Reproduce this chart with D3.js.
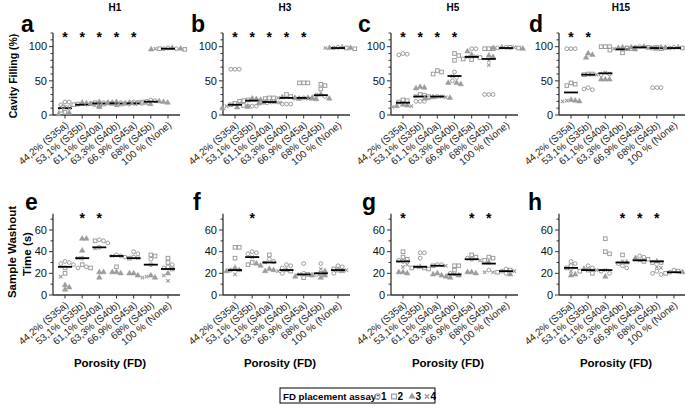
<!DOCTYPE html>
<html><head><meta charset="utf-8">
<script src="https://cdn.jsdelivr.net/npm/d3@7"></script>
<style>body{margin:0;background:#fff} svg{display:block;font-family:"Liberation Sans",Arial,sans-serif}</style>
</head><body><svg id="c" width="685" height="409"></svg>
<script>
const categories = ["44,2% (S35a)", "53,1% (S35b)", "61,1% (S40a)", "63,3% (S40b)", "66,9% (S45a)", "68% (S45b)", "100 % (None)"];
const panelTitles = ["H1", "H3", "H5", "H15"];
const panelLetters = ["a", "b", "c", "d", "e", "f", "g", "h"];
const fillTicks = [0, 50, 100];
const washTicks = [0, 20, 40, 60];
const legendLabels = ["1", "2", "3", "4"];

// each category: [circles(1), squares(2), triangles(3), crosses(4)]
const fillH1 = [
  [[19,19,15],[7,4],[1,3],[12,10]],
  [[12,12,12],[16,15],[16,17,18],[14]],
  [[17,18,16],[18,17],[12,19,18],[15]],
  [[17,18,16],[15,16],[18,19,17],[16]],
  [[19,18,17],[15,16],[18,17,16],[17]],
  [[22,21,20],[18,19],[20,19,18],[18]],
  [[97,98,97],[96,97],[98,97,96],[97]]
];
const fillH3 = [
  [[67,67,67],[15,17,14],[11,12,10],[17,13]],
  [[13,13,13],[20,22,21],[22,24,23],[21]],
  [[19,18],[25,25,24],[17,18,19],[18]],
  [[16,16,16],[30,27],[25,24,26],[25]],
  [[25,24],[47,47,47],[24,25,23],[24]],
  [[29,27],[45,43,38],[24,25,30],[24]],
  [[98,99],[98,97],[98,99,98],[98]]
];
const fillH5 = [
  [[88,89,90],[22,21,19],[14,15,13],[13,12]],
  [[20,20,20],[29,27,30],[40,41,39],[28]],
  [[27,25],[63,60,65],[25,26,24],[26,27]],
  [[63,55,50],[90,87,80],[47,47,45],[57]],
  [[97,97],[81,82,84],[93,88],[85,86]],
  [[30,30,30],[97,97,97],[87,85],[73,80]],
  [[99,98],[99,98],[99,98,97],[99]]
];
const fillH15 = [
  [[97,97,97],[47,43,45],[22,21,20],[20,21]],
  [[38,40,37],[60,60,59],[88,84,90],[59]],
  [[59,60],[100,100,100],[52,52,52],[62]],
  [[97,98],[91,95],[96,99,98],[97]],
  [[99,100],[98,99],[97,100,99],[99]],
  [[40,40,40],[99,98],[99,98],[98]],
  [[98,99],[98,97],[99,98],[98]]
];
const washH1 = [
  [[30,31,29,28],[20,25],[9,5,7],[17]],
  [[26,25,34],[25,28],[52,52,41],[34]],
  [[50,51,48,44],[50],[21,21,16],[43]],
  [[36,37,35],[26],[21,21,20],[36]],
  [[40,38,35],[34],[20,20,18],[34]],
  [[33,28],[36,37],[16,18],[16,17]],
  [[28,26,25],[34,30,24],[20],[13,18]]
];
const washH3 = [
  [[23],[44,44,34],[22,25,23],[19]],
  [[39,40,38],[30,28],[27,29],[35]],
  [[31,33],[37],[23,24,22],[30]],
  [[28,27,25,20],[22],[23],[22]],
  [[29,20],[19,16],[17,18],[19]],
  [[29,19],[20],[16,18,22],[24]],
  [[26,27,20],[23,24],[22],[23]]
];
const washH5 = [
  [[31,32],[40,33,35],[21,21,20],[26,28]],
  [[39,39,34],[25,24,25],[26],[26]],
  [[28,28],[27],[20,19,18],[27]],
  [[20],[27,27,23],[16,18,17],[19]],
  [[33,34],[37,35],[21,21,20],[32]],
  [[23],[35,34,32],[30],[21,21]],
  [[22,20,24],[23,21],[19],[22]]
];
const washH15 = [
  [[31,29],[25,27],[18,19],[22]],
  [[27,25],[23,22,20],[24],[23]],
  [[22,20],[52,38,40],[17],[23]],
  [[27,25,29],[37],[30],[31]],
  [[36,35],[33,31],[34],[32]],
  [[20,22,19],[30,30],[31],[26,25]],
  [[21,23],[20,22],[21],[20]]
];
const fillLines = [
  [10,15,17,17,17,19.5,97],
  [15,21,19,25,25,29,98],
  [18,27,27,57,85,82,98],
  [33,59,61,96,99,98,98]
];
const washLines = [
  [26,34,44,36,34,28,24],
  [23,35,30,23,19,20,23],
  [31,26,27,19,33,29,22],
  [25,23,23,30,32,31,21]
];
const fillStars = [
  [1,1,1,1,1,0,0],
  [1,1,1,1,1,0,0],
  [1,1,1,1,0,0,0],
  [1,1,0,0,0,0,0]
];
const washStars = [
  [0,1,1,0,0,0,0],
  [0,1,0,0,0,0,0],
  [1,0,0,0,1,1,0],
  [0,0,0,1,1,1,0]
];

const svg = d3.select("#c");
const grey = "#9b9b9b";
const axisColor = "#333";
const colX = [53, 223, 391, 559];
const axisLen = 127;

const rows = [
  {data:[fillH1, fillH3, fillH5, fillH15], lines: fillLines, stars: fillStars,
   domain:[0,120], range:[115,33], ticks: fillTicks, minor: d3.range(0,121,10), starY: 34,
   letterY: 32},
  {data:[washH1, washH3, washH5, washH15], lines: washLines, stars: washStars,
   domain:[0,75], range:[295,213.75], ticks: washTicks, minor: d3.range(0,76,10), starY: 215,
   letterY: 210}
];

const letterX = [[21,191,358,529],[25,193,362,528]];

function swarm(pts, y, d) {
  const s = pts.map(p => ({...p, py: y(p.v)})).sort((a,b) => a.py - b.py);
  const placed = [];
  let toggle = 1;
  for (const p of s) {
    let done = false;
    for (let k = 0; k < 30 && !done; k++) {
      const cands = k === 0 ? [0] : [toggle * k * d / 2, -toggle * k * d / 2];
      for (const off of cands) {
        if (placed.every(q => Math.hypot(q.dx - off, q.py - p.py) >= d)) {
          p.dx = off; done = true; if (k>0) toggle = -toggle; break;
        }
      }
    }
    placed.push(p);
  }
  return placed;
}

rows.forEach((row, ri) => {
  const y = d3.scaleLinear().domain(row.domain).range(row.range);
  row.data.forEach((panel, pi) => {
    const x0 = colX[pi];
    const x = d3.scalePoint().domain(categories).range([x0, x0 + axisLen]).padding(0.7);
    const g = svg.append("g");

    // y axis
    g.append("line").attr("x1", x0).attr("x2", x0).attr("y1", row.range[1]).attr("y2", row.range[0])
      .attr("stroke", axisColor).attr("stroke-width", 1.3);
    row.minor.forEach(v => {
      const major = row.ticks.includes(v);
      g.append("line").attr("x1", x0 - (major ? 4 : 2.5)).attr("x2", x0)
        .attr("y1", y(v)).attr("y2", y(v)).attr("stroke", axisColor).attr("stroke-width", 1);
    });
    row.ticks.forEach(v => {
      g.append("text").attr("x", x0 - 6).attr("y", y(v) + 3.8).attr("text-anchor", "end")
        .attr("font-size", 11).attr("fill", "#111").text(v);
    });
    // x axis
    g.append("line").attr("x1", x0).attr("x2", x0 + axisLen).attr("y1", row.range[0]).attr("y2", row.range[0])
      .attr("stroke", axisColor).attr("stroke-width", 1.3);
    categories.forEach(c => {
      const cx = x(c);
      g.append("line").attr("x1", cx).attr("x2", cx).attr("y1", row.range[0]).attr("y2", row.range[0] + 3.5)
        .attr("stroke", axisColor).attr("stroke-width", 1);
      g.append("text").attr("transform", `translate(${cx + 4},${row.range[0] + 11}) rotate(-40)`)
        .attr("text-anchor", "end").attr("font-size", 10).attr("fill", "#222").text(c);
    });

    // points
    panel.forEach((groups, ci) => {
      const cx = x(categories[ci]);
      const pts = [];
      groups.forEach((vals, shape) => vals.forEach(v => pts.push({shape, v})));
      const placed = swarm(pts, y, 4.2);
      placed.forEach(p => {
        const px = cx + p.dx, py = p.py;
        if (p.shape === 0) {
          g.append("circle").attr("cx", px).attr("cy", py).attr("r", 1.9)
            .attr("fill", "none").attr("stroke", grey).attr("stroke-width", 1);
        } else if (p.shape === 1) {
          g.append("rect").attr("x", px - 1.8).attr("y", py - 1.8).attr("width", 3.6).attr("height", 3.6)
            .attr("fill", "none").attr("stroke", grey).attr("stroke-width", 1);
        } else if (p.shape === 2) {
          g.append("path").attr("d", d3.symbol(d3.symbolTriangle, 13)()).attr("transform", `translate(${px},${py})`)
            .attr("fill", grey).attr("stroke", grey).attr("stroke-width", 0.5);
        } else {
          g.append("path").attr("d", `M${px-1.7},${py-1.7}L${px+1.7},${py+1.7}M${px-1.7},${py+1.7}L${px+1.7},${py-1.7}`)
            .attr("stroke", grey).attr("stroke-width", 1.1);
        }
      });
      const lv = row.lines[pi][ci];
      g.append("line").attr("x1", cx - 7).attr("x2", cx + 7).attr("y1", y(lv)).attr("y2", y(lv))
        .attr("stroke", "#000").attr("stroke-width", 1.8);
      if (row.stars[pi][ci]) {
        g.append("text").attr("x", cx).attr("y", row.starY + 8).attr("text-anchor", "middle")
          .attr("font-size", 14).attr("font-weight", "bold").text("*");
      }
    });

    // letter
    g.append("text").attr("x", letterX[ri][pi]).attr("y", row.letterY).attr("font-size", 23)
      .attr("font-weight", "bold").text(panelLetters[ri * 4 + pi]);
    if (ri === 0) {
      g.append("text").attr("x", x0 + 62).attr("y", 11).attr("text-anchor", "middle")
        .attr("font-size", 10).attr("font-weight", "bold").text(panelTitles[pi]);
    } else {
      g.append("text").attr("x", x0 + 57).attr("y", 367).attr("text-anchor", "middle")
        .attr("font-size", 11.5).attr("font-weight", "bold").text("Porosity (FD)");
    }
  });
});

// y titles
svg.append("text").attr("transform", "translate(17,76) rotate(-90)").attr("text-anchor", "middle")
  .attr("font-size", 10.5).attr("font-weight", "bold").text("Cavity Filling (%)");
svg.append("text").attr("transform", "translate(16,252) rotate(-90)").attr("text-anchor", "middle")
  .attr("font-size", 11.5).attr("font-weight", "bold").text("Sample Washout");
svg.append("text").attr("transform", "translate(31,254) rotate(-90)").attr("text-anchor", "middle")
  .attr("font-size", 11.5).attr("font-weight", "bold").text("Time (s)");

// legend
const lg = svg.append("g");
lg.append("rect").attr("x", 280).attr("y", 388).attr("width", 155).attr("height", 15)
  .attr("fill", "#fff").attr("stroke", "#000").attr("stroke-width", 1);
lg.append("text").attr("x", 283).attr("y", 400).attr("font-size", 9.7).attr("font-weight", "bold")
  .text("FD placement assay:");
const legX = [377.5, 394, 412, 427];
legendLabels.forEach((lab, i) => {
  const px = legX[i], py = 396.5;
  if (i === 0) lg.append("circle").attr("cx", px).attr("cy", py).attr("r", 2.6).attr("fill", "none").attr("stroke", grey).attr("stroke-width", 1.2);
  else if (i === 1) lg.append("rect").attr("x", px - 2.4).attr("y", py - 2.4).attr("width", 4.8).attr("height", 4.8).attr("fill", "none").attr("stroke", grey).attr("stroke-width", 1.2);
  else if (i === 2) lg.append("path").attr("d", d3.symbol(d3.symbolTriangle, 22)()).attr("transform", `translate(${px},${py})`).attr("fill", grey);
  else lg.append("path").attr("d", `M${px-2.2},${py-2.2}L${px+2.2},${py+2.2}M${px-2.2},${py+2.2}L${px+2.2},${py-2.2}`).attr("stroke", grey).attr("stroke-width", 1.4);
  lg.append("text").attr("x", px + 3.5).attr("y", 400).attr("font-size", 10).attr("font-weight", "bold").text(lab);
});
</script></body></html>
